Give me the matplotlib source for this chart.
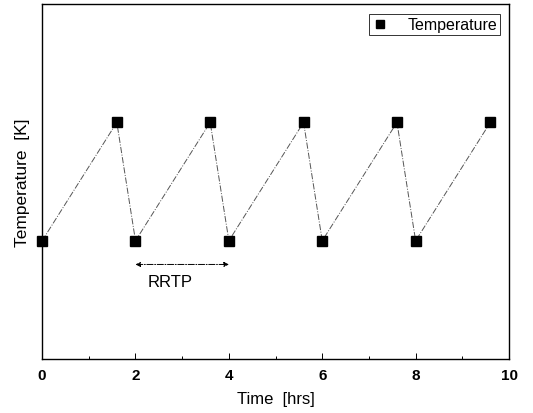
import matplotlib
matplotlib.use('Agg')
import matplotlib.pyplot as plt
from matplotlib.ticker import MultipleLocator

plt.rcParams['font.family'] = ['Liberation Sans', 'DejaVu Sans']

# data (arbitrary temperature units)
time_hrs = [0, 1.6, 2, 3.6, 4, 5.6, 6, 7.6, 8, 9.6]
temperature = [1.0, 2.0, 1.0, 2.0, 1.0, 2.0, 1.0, 2.0, 1.0, 2.0]
xticks = [0, 2, 4, 6, 8, 10]

fig = plt.figure(figsize=(5.33, 4.14), dpi=100)
ax = fig.add_axes([0.079, 0.130, 0.876, 0.858])

ax.plot(time_hrs, temperature, color='#555555', lw=0.7, ls='-.', zorder=1)
ax.plot(time_hrs, temperature, ls='none', marker='s', ms=6.5, color='black',
        label='Temperature', zorder=3, clip_on=False)

# RRTP annotation
ax.annotate('', xy=(4, 0.80), xytext=(2, 0.80),
            arrowprops=dict(arrowstyle='<|-|>', color='black', lw=0.7, ls='-.',
                            mutation_scale=7, shrinkA=0, shrinkB=0))
ax.text(2.74, 0.66, 'RRTP', ha='center', va='center', fontsize=12)

ax.set_xlim(0, 10)
ax.set_ylim(0, 3)
ax.set_xticks(xticks)
ax.xaxis.set_minor_locator(MultipleLocator(1))
ax.set_yticks([])
ax.tick_params(axis='x', which='major', direction='in', length=4, width=0.7, labelsize=11, pad=6)
ax.tick_params(axis='x', which='minor', direction='in', length=2.5, width=0.7)
for lbl in ax.get_xticklabels():
    lbl.set_fontweight('bold')
for s in ax.spines.values():
    s.set_linewidth(1.0)

ax.set_xlabel('Time  [hrs]', fontsize=12, labelpad=7)
ax.set_ylabel('Temperature  [K]', fontsize=12.5, labelpad=9)

leg = ax.legend(loc='upper right', bbox_to_anchor=(0.981, 0.972), fontsize=11.5,
                frameon=True, fancybox=False, handlelength=1.0, handletextpad=1.2,
                borderaxespad=0, borderpad=0.2, markerscale=0.8)
leg.get_frame().set_edgecolor('black')
leg.get_frame().set_linewidth(0.7)

fig.savefig('out.png', dpi=100)
